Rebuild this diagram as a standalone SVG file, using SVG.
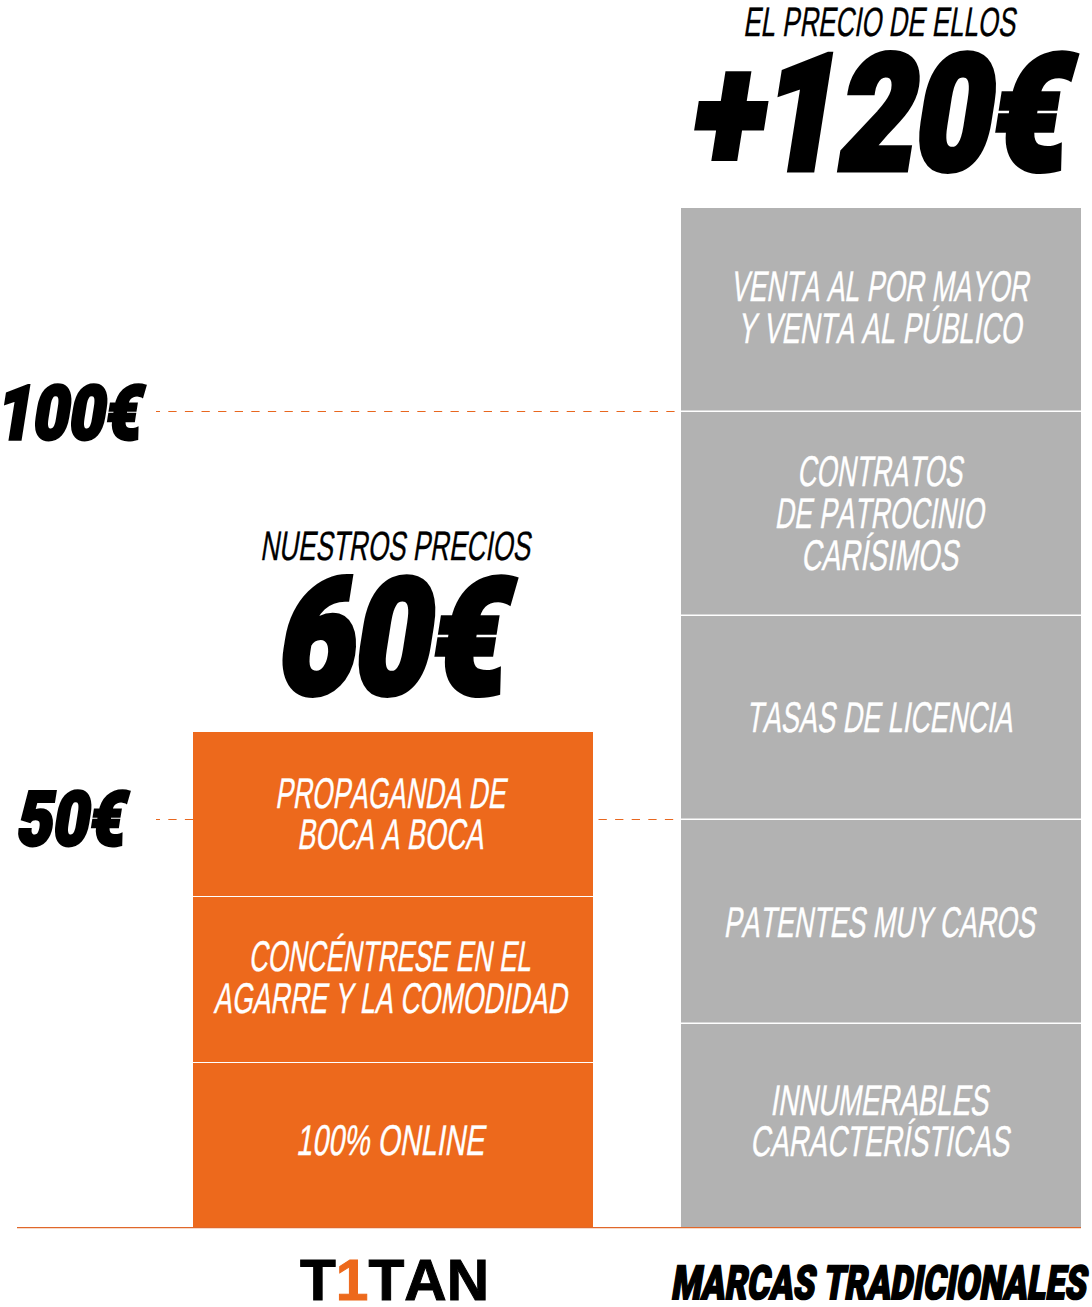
<svg xmlns="http://www.w3.org/2000/svg" width="1092" height="1307" viewBox="0 0 1092 1307">
<style>
text{font-family:"Liberation Sans",Arial,sans-serif;font-kerning:none}
.o{fill:#ed691c}
.g{fill:#b2b2b2}
.l{font-size:43px;fill:#fff;stroke:#fff;stroke-width:.4px}
.k{font-size:41px;fill:#000;stroke:#000;stroke-width:.35px}
.h{font-family:Roboto,"Liberation Sans",sans-serif;font-weight:900;fill:#000;stroke:#000;stroke-linejoin:miter}
.big{font-size:160px;stroke-width:7px}
.mid{font-size:75px;stroke-width:3.5px}
.d{fill:none;stroke:#e8671f;stroke-width:1;stroke-dasharray:8.3 8.3}
</style>
<rect width="1092" height="1307" fill="#fff"/>
<g id="connectors">
<path class="d" stroke-dashoffset="4.3" d="M156 411.5H675"/>
<path class="d" stroke-dashoffset="4.3" d="M156 819.5H193"/>
<path class="d" d="M598.5 819.5H675"/>
</g>
<g id="titulo-ellos"><text class="k" transform="translate(743 36) skewX(-9)" textLength="272" lengthAdjust="spacingAndGlyphs">EL PRECIO DE ELLOS</text></g>
<g id="precio-ellos"><text class="h big" transform="translate(688 168.5) skewX(-9)" textLength="375" lengthAdjust="spacingAndGlyphs">+120€</text></g>
<g id="titulo-nuestros"><text class="k" transform="translate(260 560) skewX(-9)" textLength="270" lengthAdjust="spacingAndGlyphs">NUESTROS PRECIOS</text></g>
<g id="precio-nuestro"><text class="h big" transform="translate(274 692.5) skewX(-9)" textLength="228" lengthAdjust="spacingAndGlyphs">60€</text></g>
<g id="eje-100"><text class="h mid" transform="translate(-5 438.5) skewX(-9)" textLength="144" lengthAdjust="spacingAndGlyphs">100€</text></g>
<g id="eje-50"><text class="h mid" transform="translate(15 844.5) skewX(-9)" textLength="108" lengthAdjust="spacingAndGlyphs">50€</text></g>

<g id="titan-1">
<rect class="o" x="193" y="732" width="400" height="164"/>
<text class="l" transform="translate(275 808) skewX(-9)" textLength="230" lengthAdjust="spacingAndGlyphs">PROPAGANDA DE</text>
<text class="l" transform="translate(297 849) skewX(-9)" textLength="186" lengthAdjust="spacingAndGlyphs">BOCA A BOCA</text>
</g>
<g id="titan-2">
<rect class="o" x="193" y="897" width="400" height="165"/>
<text class="l" transform="translate(248.5 971) skewX(-9)" textLength="282" lengthAdjust="spacingAndGlyphs">CONCÉNTRESE EN EL</text>
<text class="l" transform="translate(213.5 1013) skewX(-9)" textLength="353" lengthAdjust="spacingAndGlyphs">AGARRE Y LA COMODIDAD</text>
</g>
<g id="titan-3">
<rect class="o" x="193" y="1063" width="400" height="164"/>
<text class="l" transform="translate(296 1154.5) skewX(-9)" textLength="188" lengthAdjust="spacingAndGlyphs">100% ONLINE</text>
</g>

<g id="marca-1">
<rect class="g" x="681" y="208" width="400" height="202.5"/>
<text class="l" transform="translate(730.5 301) skewX(-9)" textLength="298" lengthAdjust="spacingAndGlyphs">VENTA AL POR MAYOR</text>
<text class="l" transform="translate(737.5 343) skewX(-9)" textLength="284" lengthAdjust="spacingAndGlyphs">Y VENTA AL PÚBLICO</text>
</g>
<g id="marca-2">
<rect class="g" x="681" y="412" width="400" height="202.5"/>
<text class="l" transform="translate(797 486) skewX(-9)" textLength="165" lengthAdjust="spacingAndGlyphs">CONTRATOS</text>
<text class="l" transform="translate(774.5 528) skewX(-9)" textLength="209" lengthAdjust="spacingAndGlyphs">DE PATROCINIO</text>
<text class="l" transform="translate(801 570) skewX(-9)" textLength="157" lengthAdjust="spacingAndGlyphs">CARÍSIMOS</text>
</g>
<g id="marca-3">
<rect class="g" x="681" y="616" width="400" height="202.5"/>
<text class="l" transform="translate(746 732) skewX(-9)" textLength="266" lengthAdjust="spacingAndGlyphs">TASAS DE LICENCIA</text>
</g>
<g id="marca-4">
<rect class="g" x="681" y="820" width="400" height="202.5"/>
<text class="l" transform="translate(723.5 937) skewX(-9)" textLength="311" lengthAdjust="spacingAndGlyphs">PATENTES MUY CAROS</text>
</g>
<g id="marca-5">
<rect class="g" x="681" y="1024" width="400" height="203"/>
<text class="l" transform="translate(770 1115) skewX(-9)" textLength="218" lengthAdjust="spacingAndGlyphs">INNUMERABLES</text>
<text class="l" transform="translate(750 1156) skewX(-9)" textLength="259" lengthAdjust="spacingAndGlyphs">CARACTERÍSTICAS</text>
</g>
<g id="eje-base"><path d="M17 1227.6H1081" fill="none" stroke="#e0672a" stroke-width="1.2"/></g>

<g id="logo-titan"><text x="300" y="1300" font-size="58" font-weight="700" stroke="#000" stroke-width="1" textLength="189" lengthAdjust="spacingAndGlyphs">T<tspan fill="#ed691c" stroke="#ed691c">1</tspan>TAN</text></g>
<g id="marcas-tradicionales"><text class="h" style="font-size:47px;stroke-width:1.8px" transform="translate(670.5 1299) skewX(-9)" textLength="415" lengthAdjust="spacingAndGlyphs">MARCAS TRADICIONALES</text></g>
</svg>
